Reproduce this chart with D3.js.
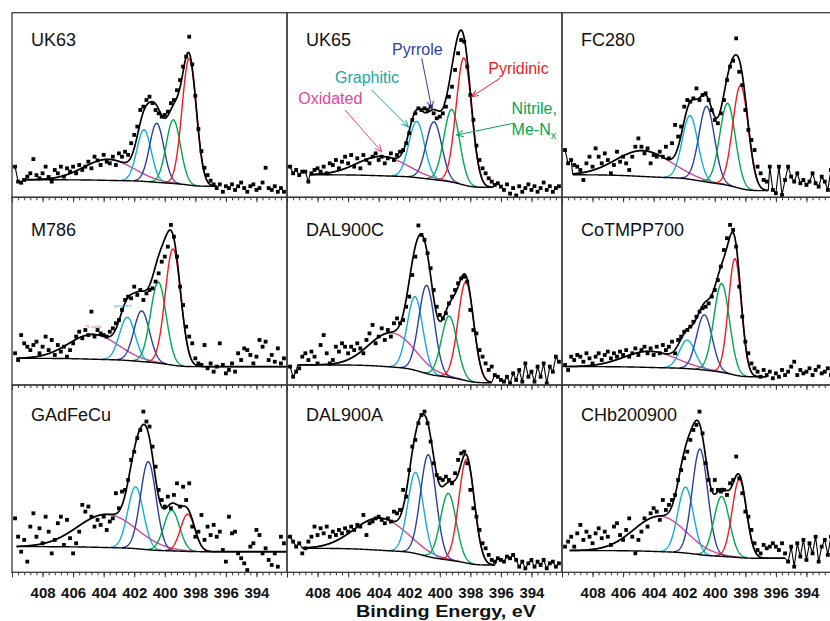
<!DOCTYPE html>
<html>
<head>
<meta charset="utf-8">
<script src="https://cdn.jsdelivr.net/npm/d3@7"></script>
<style>
  body { margin: 0; background: #fff; }
  svg { display: block; }
</style>
</head>
<body>
<script>
// ---- data -------------------------------------------------------------
var samples = ["UK63", "UK65", "FC280", "M786", "DAL900C", "CoTMPP700", "GAdFeCu", "DAL900A", "CHb200900"];

// binding energy of each recorded channel (eV)
var energy = [409.8,409.6,409.4,409.2,409.0,408.8,408.6,408.4,408.2,408.0,
  407.8,407.6,407.4,407.2,407.0,406.8,406.6,406.4,406.2,406.0,
  405.8,405.6,405.4,405.2,405.0,404.8,404.6,404.4,404.2,404.0,
  403.8,403.6,403.4,403.2,403.0,402.8,402.6,402.4,402.2,402.0,
  401.8,401.6,401.4,401.2,401.0,400.8,400.6,400.4,400.2,400.0,
  399.8,399.6,399.4,399.2,399.0,398.8,398.6,398.4,398.2,398.0,
  397.8,397.6,397.4,397.2,397.0,396.8,396.6,396.4,396.2,396.0,
  395.8,395.6,395.4,395.2,395.0,394.8,394.6,394.4,394.2,394.0,
  393.8,393.6,393.4,393.2,393.0,392.8,392.6,392.4,392.2];

// measured N1s counts, scaled 0-100 per panel
var uk63 = [16.6,8.5,7.9,9.4,11.2,13.0,20.7,12.0,10.3,13.0,
  16.6,11.0,8.5,14.8,13.0,16.6,11.2,15.7,13.9,16.6,
  13.0,17.5,14.8,16.6,19.3,15.7,22.0,20.0,17.5,23.0,
  19.3,18.4,22.0,17.5,23.8,22.0,24.7,23.0,29.3,33.8,
  38.3,47.3,49.1,52.7,54.5,51.0,47.3,45.5,43.7,44.6,
  46.4,51.0,52.7,58.0,63.5,70.8,76.2,87.0,72.0,55.0,
  37.0,25.0,16.0,12.0,9.0,7.0,5.0,7.0,3.0,6.0,
  5.0,7.0,4.0,6.0,8.0,5.0,3.0,6.0,7.0,4.0,
  5.0,8.0,16.0,5.0,4.0,6.0,3.0,5.0,3.0];
var uk65 = [16.6,13.0,14.8,12.0,13.9,13.9,8.5,13.0,14.8,15.7,
  13.9,16.6,13.0,18.4,17.5,20.2,15.7,19.3,22.0,18.4,
  22.9,16.6,21.1,15.7,22.9,20.2,18.4,22.0,23.8,20.2,
  22.0,18.4,21.1,23.8,20.2,22.9,24.7,25.6,29.3,34.7,
  41.9,45.5,48.2,47.3,48.2,47.3,49.1,45.5,42.8,43.7,
  45.5,49.1,54.5,59.9,69.0,78.0,85.2,84.3,70.8,55.4,
  42.0,28.0,20.2,15.7,13.0,10.3,8.5,6.7,7.6,5.8,
  4.0,7.0,2.0,5.0,1.0,6.0,3.0,5.0,7.0,4.0,
  6.0,3.0,5.0,8.0,4.0,6.0,3.0,5.0,6.0];
var fc280 = [25.6,18.4,20.2,17.5,16.6,14.8,9.4,18.4,22.0,16.6,
  26.5,22.0,18.4,23.8,20.2,13.0,17.5,24.7,19.3,22.0,
  18.4,14.8,22.0,27.4,31.9,27.4,23.8,26.5,18.4,22.9,
  22.0,24.7,22.0,27.4,21.1,29.3,39.2,32.9,38.3,49.1,
  52.7,51.8,53.6,59.0,52.7,55.4,56.3,52.7,47.3,41.9,
  40.1,45.5,52.7,63.5,70.8,74.0,86.1,68.0,60.8,47.3,
  36.5,31.0,25.6,16.6,13.0,9.4,8.5,16.6,4.0,2.2,
  16.6,1.3,9.4,16.6,11.2,8.5,13.0,7.6,9.4,6.7,
  8.5,13.0,7.6,5.8,11.2,8.5,4.0,14.8,6.7];
var m786 = [16.9,13.3,26.6,22.2,20.4,18.6,21.3,23.1,16.9,20.4,
  25.8,18.6,24.0,16.0,21.3,17.8,20.4,15.1,18.6,22.2,
  25.8,28.4,24.9,29.3,26.6,39.1,25.8,29.3,27.5,26.6,
  25.8,28.4,30.2,32.9,34.6,40.0,45.3,47.1,46.2,52.4,
  48.0,50.6,45.3,48.8,50.6,51.5,55.1,59.5,65.7,68.4,
  73.7,85.3,79.0,68.4,52.4,42.6,31.1,25.8,22.2,14.2,
  11.5,10.7,21.3,8.9,11.5,7.1,9.8,22.2,10.7,6.2,
  8.0,11.5,7.1,16.9,13.3,19.5,18.6,16.0,11.5,15.1,
  24.0,20.4,23.1,13.3,16.0,12.4,19.5,11.5,14.2];
var dal900c = [9.8,4.4,7.1,8.9,15.1,16.9,13.3,17.8,15.1,11.5,
  21.3,26.6,16.9,11.5,13.3,20.4,17.8,22.2,20.4,16.9,
  20.4,18.6,22.2,19.5,16.9,24.0,27.5,32.0,22.2,25.8,
  30.2,24.0,29.3,25.8,32.9,35.5,32.9,34.6,41.7,47.1,
  58.6,68.4,85.0,80.0,77.3,70.2,62.2,50.6,41.7,37.3,
  35.5,38.2,43.5,47.1,50.6,54.2,56.8,57.7,55.1,40.0,
  29.3,27.5,18.6,15.1,11.5,8.0,9.8,5.3,4.4,2.7,
  1.8,4.4,0.9,6.2,2.7,8.0,1.8,11.5,4.4,7.1,
  1.8,9.8,4.4,11.5,0.9,9.8,7.1,15.1,12.4];
var cotmpp700 = [10.7,8.0,15.1,13.3,16.0,15.1,12.4,16.9,14.2,11.5,
  15.1,16.9,13.3,16.0,17.8,14.2,16.9,15.1,17.8,16.0,
  18.6,15.1,16.9,19.5,16.0,18.6,20.4,16.9,19.5,16.0,
  20.4,16.9,21.3,18.6,20.4,23.1,16.9,24.0,25.8,28.4,
  29.3,31.1,33.7,36.4,39.1,40.9,41.7,43.5,47.1,50.6,
  55.9,63.1,71.9,78.2,85.3,82.6,73.7,52.4,36.4,23.1,
  16.9,11.5,8.9,7.1,4.4,8.0,5.3,7.1,3.6,6.2,
  4.4,8.0,5.3,7.1,9.8,12.4,5.3,8.0,6.2,7.1,
  8.9,5.3,8.0,9.8,6.2,7.1,8.9,5.3,7.1];
var gadfecu = [28.8,19.0,11.0,17.3,5.7,24.4,31.5,19.0,23.5,15.5,
  29.7,21.7,10.1,17.3,26.2,29.7,14.6,28.0,18.2,10.1,
  15.5,21.7,36.0,32.4,35.1,29.7,24.4,28.0,25.3,29.7,
  22.6,27.1,28.8,42.2,34.2,43.1,44.0,49.3,60.0,64.4,
  71.6,76.0,85.8,80.5,77.8,67.1,56.4,44.0,38.6,35.1,
  40.4,34.2,41.3,47.5,35.1,45.7,38.6,47.5,24.4,19.0,
  21.7,30.6,17.3,24.4,19.9,25.3,19.0,21.7,11.9,5.7,
  29.7,20.8,21.7,10.1,7.5,4.8,1.2,13.7,15.5,22.6,
  19.9,10.1,12.8,6.6,3.9,10.1,3.0,19.0,15.5];
var dal900a = [19.0,16.4,13.7,15.5,10.1,12.8,16.4,19.0,24.4,19.9,
  23.5,20.8,24.4,19.0,21.7,19.9,22.6,20.8,23.5,21.7,
  24.4,22.6,25.3,24.4,30.6,19.9,26.2,27.1,28.8,29.7,
  28.0,26.2,28.8,27.1,32.4,31.5,33.3,44.0,40.4,54.6,
  67.1,70.7,79.6,84.0,85.8,79.6,69.8,58.2,52.0,50.2,
  49.3,51.1,49.3,47.5,52.9,60.0,63.5,64.4,58.2,44.0,
  34.2,29.7,22.6,15.5,12.8,9.3,6.6,5.7,7.5,6.6,
  5.7,8.4,7.5,9.3,6.6,3.0,5.7,2.1,4.8,6.6,
  3.0,5.7,3.9,6.6,2.1,4.8,5.7,3.0,4.8];
var chb200900 = [13.7,16.4,19.0,13.7,20.8,25.3,17.3,21.7,19.0,15.5,
  20.8,23.5,18.2,21.7,19.0,14.6,24.4,26.2,19.9,17.3,
  22.6,28.8,19.0,10.1,17.3,21.7,28.8,24.4,31.5,34.2,
  32.4,28.0,38.6,33.3,36.0,38.6,41.3,49.3,54.6,60.9,
  64.4,70.7,76.0,78.7,85.8,74.2,58.2,49.3,44.0,49.3,
  44.0,43.1,44.0,41.3,47.5,49.3,61.8,50.2,42.2,32.4,
  29.7,22.6,15.5,11.9,10.1,14.6,12.8,13.7,15.5,13.7,
  11.9,15.5,10.1,5.7,13.7,3.0,15.5,8.4,17.3,6.6,
  15.5,10.1,19.0,5.7,13.7,17.3,9.3,19.0,28.0];
var spectra = [uk63, uk65, fc280, m786, dal900c, cotmpp700, gadfecu, dal900a, chb200900];

// fitted Gaussian components per sample: [centre eV, height, FWHM eV]
var pyridinic = [[398.40,68.5,1.1],[398.42,68.8,1.2],[398.31,55.8,1.2],[399.46,62.0,1.2],[398.29,52.6,1.2],
  [398.68,62.0,1.0],[398.50,19.9,1.1],[398.24,55.4,1.2],[398.39,41.7,1.1]];
var nitrile = [[399.44,34.5,1.1],[399.22,39.3,1.2],[399.16,44.4,1.2],[400.42,43.2,1.2],[399.38,32.6,1.2],
  [399.55,47.3,1.2],[399.55,21.8,1.2],[399.44,35.6,1.2],[399.55,32.0,1.2]];
var pyrrole = [[400.53,32.0,1.1],[400.38,31.3,1.2],[400.53,41.0,1.2],[401.51,27.0,1.2],[400.86,47.0,1.2],
  [400.68,29.4,1.2],[401.08,47.0,1.2],[400.75,54.4,1.2],[400.97,56.4,1.2]];
var graphitic = [[401.36,28.0,1.1],[401.51,30.4,1.2],[401.62,34.5,1.2],[402.45,23.0,1.2],[401.62,39.2,1.2],
  [401.80,15.2,1.2],[401.91,33.0,1.2],[401.58,43.3,1.2],[401.91,35.2,1.2]];
var oxidated = [[403.70,11.4,3.8],[403.80,10.5,3.8],[404.68,14.0,4.2],[404.68,13.2,3.8],[403.15,18.2,3.5],
  [404.24,8.6,4.0],[403.80,17.7,4.5],[403.91,17.2,4.0],[403.59,18.9,4.0]];
// Shirley background level [high-BE end, low-BE end]
var background = [[9.5,6.0],[12.2,5.4],[12.2,3.6],[14.2,9.8],[10.7,1.2],[9.8,4.4],[13.7,11.0],[12.8,3.9],[11.6,7.5]];
// fitted window [from, to] eV
var fitWindow = [[409.3,396.6],[408.5,396.5],[409.3,396.5],[409.7,392.0],[409.3,396.6],
  [409.8,396.6],[409.7,392.0],[409.0,396.4],[409.5,395.4]];
// raw trace joined by a line outside the window
var tailLeft = [true,true,true,false,true,true,false,true,false];
var tailRight = [false,false,true,false,true,false,false,true,true];

var majorTicks = [410,408,406,404,402,400,398,396,394,392];
var tickLabels = [408,406,404,402,400,398,396,394];

// labels in the UK65 panel
var labelNames = ["Oxidated","Graphitic","Pyrrole","Pyridinic","Nitrile,"];
var labelAt = [[409.26,50.5],[406.86,61.8],[403.13,77.0],[396.83,66.8],[395.30,45.1]];
var arrowFrom = [[406.2,47.3],[404.46,58.1],[401.18,75.3],[396.06,64.5],[395.19,40.1]];
var arrowTo = [[403.8,24.7],[402.06,38.2],[400.53,48.2],[397.91,54.5],[398.9,33.7]];
// tiny labels in the M786 panel
var tinyNames = ["N oxide","graphitic"];
var tinyAt = [[404.63,30.4],[402.74,41.6]];

// ---- layout -----------------------------------------------------------
var width = 830, height = 621;
var colLeft = [12, 287, 562];
var rowEdge = [12.7, 197.3, 385, 572.3];
var panelW = 275;
var titleDrop = [33.2, 38.2, 35.8];

var lineColour = ["#d2479e", "#14acd6", "#2e3f9a", "#00a651", "#ed1c24"];
var labelColour = ["#e5459b", "#1aa6a6", "#2e3f9a", "#ed1c24", "#00a651"];
var comps = [oxidated, graphitic, pyrrole, nitrile, pyridinic];

var svg = d3.select("body").append("svg")
    .attr("width", width).attr("height", height)
    .style("font-family", "'Liberation Sans', Arial, sans-serif");

var defs = svg.append("defs");
labelColour.forEach(function(c, k) {
  defs.append("marker")
      .attr("id", "arrow" + k)
      .attr("markerUnits", "userSpaceOnUse")
      .attr("markerWidth", 8).attr("markerHeight", 8)
      .attr("refX", 7).attr("refY", 4)
      .attr("orient", "auto")
    .append("path")
      .attr("d", "M0,0.8 L7,4 L0,7.2")
      .attr("fill", "none")
      .attr("stroke", c)
      .attr("stroke-width", 1);
});

function gauss(p, e) {
  return p[1] * Math.exp(-4 * Math.LN2 * (e - p[0]) * (e - p[0]) / (p[2] * p[2]));
}

samples.forEach(function(name, i) {
  var col = i % 3, row = Math.floor(i / 3);
  var x = d3.scaleLinear().domain([410, 392]).range([colLeft[col], colLeft[col] + panelW]);
  var y = d3.scaleLinear().domain([0, 100]).range([rowEdge[row + 1], rowEdge[row]]);

  defs.append("clipPath").attr("id", "clip" + i)
    .append("rect")
      .attr("x", colLeft[col]).attr("y", rowEdge[row])
      .attr("width", panelW).attr("height", rowEdge[row + 1] - rowEdge[row]);

  var g = svg.append("g");
  var plot = g.append("g").attr("clip-path", "url(#clip" + i + ")");

  // fitted curves on a fine grid inside the fit window
  var hi = fitWindow[i][0], lo = fitWindow[i][1];
  var grid = d3.range(lo, hi + 1e-6, 0.02);
  var peaks = comps.map(function(c) { return c[i]; });
  var sum = grid.map(function(e) { return d3.sum(peaks, function(p) { return gauss(p, e); }); });
  var cum = Array.from(d3.cumsum(sum));
  var total = cum[cum.length - 1];
  var bgHi = background[i][0], bgLo = background[i][1];
  var bg = cum.map(function(c) { return bgLo + (bgHi - bgLo) * c / total; });

  var line = d3.line().x(function(d) { return x(d[0]); }).y(function(d) { return y(d[1]); });

  peaks.forEach(function(p, k) {
    var pts = grid.map(function(e, j) { return [e, bg[j] + gauss(p, e), gauss(p, e)]; })
                  .filter(function(d) { return d[2] > 0.15; });
    plot.append("path")
        .attr("d", line(pts))
        .attr("fill", "none")
        .attr("stroke", lineColour[k])
        .attr("stroke-width", 1.4);
  });

  plot.append("path")
      .attr("d", line(grid.map(function(e, j) { return [e, bg[j]]; })))
      .attr("fill", "none").attr("stroke", "#000").attr("stroke-width", 1.4);

  var env = grid.map(function(e, j) { return [e, bg[j] + sum[j]]; });
  plot.append("path")
      .attr("d", line(env))
      .attr("fill", "none").attr("stroke", "#000").attr("stroke-width", 1.7);

  var data = energy.map(function(e, j) { return [e, spectra[i][j]]; });
  if (tailLeft[i]) {
    var left = data.filter(function(d) { return d[0] > hi; }).concat([env[env.length - 1]]);
    left.unshift([410, left[0][1]]);
    plot.append("path").attr("d", line(left))
        .attr("fill", "none").attr("stroke", "#000").attr("stroke-width", 1.1);
  }
  if (tailRight[i]) {
    var right = [env[0]].concat(data.filter(function(d) { return d[0] < lo; }));
    plot.append("path").attr("d", line(right))
        .attr("fill", "none").attr("stroke", "#000").attr("stroke-width", 1.1);
  }

  plot.selectAll("rect.pt")
      .data(data)
      .enter().append("rect")
        .attr("class", "pt")
        .attr("x", function(d) { return x(d[0]) - 1.9; })
        .attr("y", function(d) { return y(d[1]) - 1.9; })
        .attr("width", 3.8).attr("height", 3.8)
        .attr("fill", "#000");

  // axis ticks
  var minor = d3.range(0, 46).map(function(k) { return 410 - 0.4 * k; });
  g.append("g")
      .attr("transform", "translate(0," + rowEdge[row + 1] + ")")
      .call(d3.axisBottom(x).tickValues(minor).tickSize(3).tickFormat(""))
      .call(function(a) { a.select(".domain").remove(); a.selectAll("line").attr("stroke", "#333"); });
  g.append("g")
      .attr("transform", "translate(0," + rowEdge[row + 1] + ")")
      .call(d3.axisBottom(x).tickValues(majorTicks).tickSize(5).tickPadding(10)
              .tickFormat(function(d) { return row === 2 && tickLabels.indexOf(d) >= 0 ? d : ""; }))
      .call(function(a) {
        a.select(".domain").remove();
        a.selectAll("line").attr("stroke", "#333");
        a.selectAll("text").attr("font-size", 15).attr("font-weight", "bold")
         .attr("font-family", "'Liberation Sans', Arial, sans-serif").attr("fill", "#111");
      });

  g.append("rect")
      .attr("x", colLeft[col]).attr("y", rowEdge[row])
      .attr("width", panelW).attr("height", rowEdge[row + 1] - rowEdge[row])
      .attr("fill", "none").attr("stroke", "#3a3a3a").attr("stroke-width", 1.3);

  g.append("text")
      .attr("x", colLeft[col] + 19)
      .attr("y", rowEdge[row] + titleDrop[row])
      .attr("font-size", 18)
      .attr("fill", "#111")
      .text(name);

  if (name === "UK65") {
    labelNames.forEach(function(t, k) {
      g.append("line")
          .attr("x1", x(arrowFrom[k][0])).attr("y1", y(arrowFrom[k][1]))
          .attr("x2", x(arrowTo[k][0])).attr("y2", y(arrowTo[k][1]))
          .attr("stroke", labelColour[k]).attr("stroke-width", 1)
          .attr("marker-end", "url(#arrow" + k + ")");
      g.append("text")
          .attr("x", x(labelAt[k][0])).attr("y", y(labelAt[k][1]))
          .attr("font-size", 16).attr("fill", labelColour[k])
          .text(t);
    });
    var me = g.append("text")
        .attr("x", x(labelAt[4][0])).attr("y", y(33.7))
        .attr("font-size", 16).attr("fill", labelColour[4]);
    me.append("tspan").text("Me-N");
    me.append("tspan").attr("font-size", 11).attr("dy", 4).text("x");
  }
  if (name === "M786") {
    tinyNames.forEach(function(t, k) {
      g.append("text")
          .attr("x", x(tinyAt[k][0])).attr("y", y(tinyAt[k][1]))
          .attr("text-anchor", "middle")
          .attr("font-size", 5).attr("font-family", "'Liberation Serif', serif")
          .attr("fill", k === 0 ? lineColour[0] : lineColour[1])
          .text(t);
    });
  }
});

svg.append("text")
    .attr("x", 446).attr("y", 617)
    .attr("text-anchor", "middle")
    .attr("font-size", 16).attr("font-weight", "bold")
    .attr("fill", "#111")
    .attr("textLength", 180).attr("lengthAdjust", "spacingAndGlyphs")
    .text("Binding Energy, eV");
</script>
</body>
</html>
